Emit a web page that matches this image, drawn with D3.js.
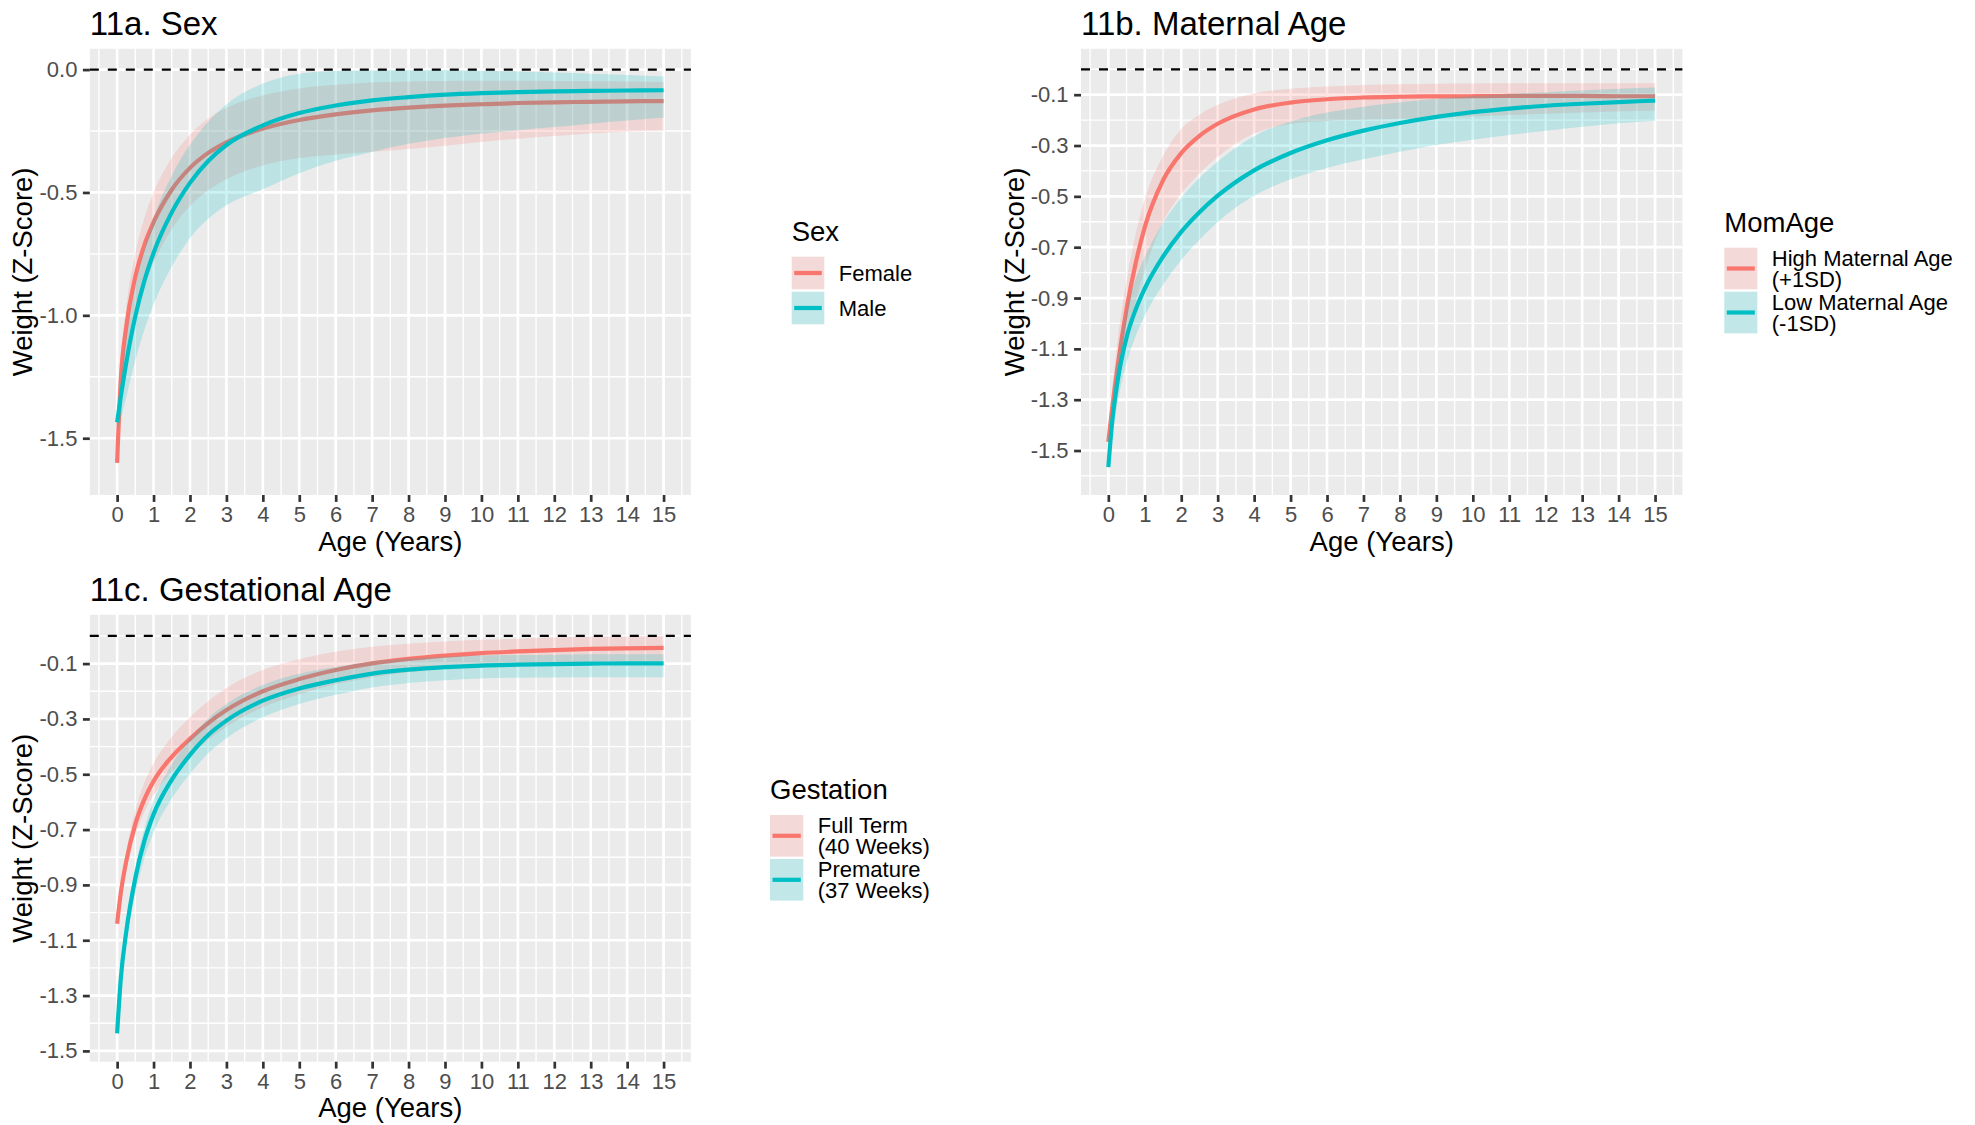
<!DOCTYPE html>
<html><head><meta charset="utf-8">
<script src="https://cdn.jsdelivr.net/npm/d3@7"></script>
<style>
body{margin:0;background:#fff;}
svg text{font-family:"Liberation Sans", Arial, sans-serif;}
</style>
</head><body>
<svg id="chart" width="1975" height="1125"></svg>
<script>
// ---------- DATA ----------
const ages = [0, 0.1, 0.25, 0.5, 0.75, 1, 1.5, 2, 2.5, 3, 4, 5, 6, 7, 8, 9, 10, 11, 12, 13, 14, 15];
const xTicks = [0,1,2,3,4,5,6,7,8,9,10,11,12,13,14,15];
const xTickLabels = ["0","1","2","3","4","5","6","7","8","9","10","11","12","13","14","15"];
const yTicksA = [0, -0.5, -1.0, -1.5];
const yTickLabelsA = ["0.0", "-0.5", "-1.0", "-1.5"];
const yTicksBC = [-0.1, -0.3, -0.5, -0.7, -0.9, -1.1, -1.3, -1.5];
const yTickLabelsBC = ["-0.1", "-0.3", "-0.5", "-0.7", "-0.9", "-1.1", "-1.3", "-1.5"];

// 11a. Sex
const femaleFit  = [-1.60, -1.262, -1.047, -0.843, -0.713, -0.621, -0.489, -0.40, -0.339, -0.296, -0.240, -0.205, -0.182, -0.166, -0.155, -0.147, -0.141, -0.136, -0.133, -0.131, -0.129, -0.128];
const femaleLow  = [-1.64, -1.362, -1.177, -0.993, -0.873, -0.786, -0.649, -0.555, -0.491, -0.446, -0.39, -0.36, -0.345, -0.334, -0.323, -0.31, -0.295, -0.281, -0.27, -0.26, -0.252, -0.248];
const femaleHigh = [-1.57, -1.202, -0.967, -0.748, -0.603, -0.501, -0.359, -0.265, -0.199, -0.156, -0.105, -0.077, -0.062, -0.053, -0.048, -0.046, -0.045, -0.045, -0.046, -0.047, -0.048, -0.05];
const maleFit    = [-1.435, -1.331, -1.193, -1.003, -0.859, -0.746, -0.581, -0.461, -0.372, -0.307, -0.227, -0.177, -0.146, -0.125, -0.112, -0.102, -0.096, -0.092, -0.089, -0.087, -0.085, -0.084];
const maleLow    = [-1.47, -1.421, -1.333, -1.183, -1.059, -0.956, -0.801, -0.686, -0.607, -0.552, -0.487, -0.422, -0.371, -0.335, -0.302, -0.278, -0.261, -0.247, -0.234, -0.22, -0.207, -0.196];
const maleHigh   = [-1.40, -1.261, -1.093, -0.883, -0.729, -0.606, -0.431, -0.306, -0.212, -0.142, -0.057, -0.017, -0.006, -0.003, -0.002, -0.002, -0.005, -0.008, -0.012, -0.017, -0.022, -0.028];

// 11b. Maternal Age
const highFit  = [-1.466, -1.34, -1.173, -0.943, -0.763, -0.621, -0.437, -0.33, -0.262, -0.2145, -0.158, -0.131, -0.118, -0.111, -0.108, -0.1065, -0.106, -0.105, -0.105, -0.105, -0.106, -0.106];
const highLow  = [-1.496, -1.41, -1.273, -1.063, -0.913, -0.791, -0.602, -0.49, -0.41, -0.345, -0.253, -0.215, -0.203, -0.199, -0.195, -0.19, -0.186, -0.18, -0.175, -0.17, -0.166, -0.162];
const highHigh = [-1.436, -1.27, -1.073, -0.833, -0.648, -0.511, -0.342, -0.235, -0.179, -0.14, -0.095, -0.077, -0.068, -0.062, -0.059, -0.057, -0.056, -0.055, -0.055, -0.055, -0.055, -0.055];
const lowFit   = [-1.565, -1.395, -1.23, -1.055, -0.945, -0.8625, -0.7375, -0.64, -0.5625, -0.4975, -0.3975, -0.3295, -0.2795, -0.2415, -0.2115, -0.1875, -0.1685, -0.1545, -0.1435, -0.1355, -0.129, -0.123];
const lowLow   = [-1.59, -1.455, -1.315, -1.155, -1.05, -0.97, -0.848, -0.75, -0.671, -0.601, -0.498, -0.433, -0.388, -0.354, -0.324, -0.298, -0.277, -0.259, -0.242, -0.226, -0.212, -0.202];
const lowHigh  = [-1.535, -1.335, -1.14, -0.945, -0.825, -0.738, -0.605, -0.505, -0.428, -0.363, -0.263, -0.205, -0.17, -0.147, -0.13, -0.116, -0.105, -0.097, -0.09, -0.083, -0.077, -0.072];

// 11c. Gestational Age
const fullFit  = [-1.04, -0.93, -0.815, -0.68, -0.59, -0.525, -0.437, -0.372, -0.315, -0.268, -0.20, -0.156, -0.123, -0.099, -0.083, -0.071, -0.062, -0.056, -0.051, -0.047, -0.045, -0.043];
const fullLow  = [-1.05, -0.95, -0.845, -0.72, -0.635, -0.575, -0.492, -0.43, -0.375, -0.328, -0.258, -0.211, -0.175, -0.149, -0.131, -0.118, -0.108, -0.102, -0.097, -0.093, -0.091, -0.09];
const fullHigh = [-1.03, -0.91, -0.78, -0.63, -0.53, -0.46, -0.365, -0.294, -0.235, -0.188, -0.123, -0.084, -0.057, -0.039, -0.028, -0.02, -0.014, -0.01, -0.006, -0.003, -0.002, 0.0];
const preFit   = [-1.437, -1.24, -1.07, -0.875, -0.74, -0.645, -0.52, -0.43, -0.358, -0.306, -0.234, -0.19, -0.16, -0.136, -0.122, -0.113, -0.107, -0.104, -0.102, -0.1, -0.099, -0.099];
const preLow   = [-1.447, -1.265, -1.11, -0.93, -0.802, -0.711, -0.588, -0.498, -0.424, -0.37, -0.294, -0.246, -0.213, -0.186, -0.17, -0.16, -0.154, -0.151, -0.15, -0.149, -0.149, -0.149];
const preHigh  = [-1.427, -1.22, -1.04, -0.835, -0.695, -0.595, -0.465, -0.372, -0.298, -0.246, -0.177, -0.137, -0.112, -0.092, -0.082, -0.075, -0.071, -0.069, -0.068, -0.066, -0.066, -0.066];

const titles = ["11a. Sex", "11b. Maternal Age", "11c. Gestational Age"];
const xTitle = "Age (Years)";
const yTitle = "Weight (Z-Score)";
const legendTitles = ["Sex", "MomAge", "Gestation"];
const sexLabels = [["Female"], ["Male"]];
const momAgeLabels = [["High Maternal Age", "(+1SD)"], ["Low Maternal Age", "(-1SD)"]];
const gestLabels = [["Full Term", "(40 Weeks)"], ["Premature", "(37 Weeks)"]];
const colors = ["#F8766D", "#00BFC4"];

// ---------- DRAW ----------
const svg = d3.select("#chart");
const FONT = '"Liberation Sans", Arial, sans-serif';

function build(fit, low, high) {
  return ages.map((a, i) => ({age: a, fit: fit[i], low: low[i], high: high[i]}));
}

function drawPanel(p) {
  const g = svg.append("g");
  const x = d3.scaleLinear().domain([-0.75, 15.75]).range([p.left, p.right]);
  const y = d3.scaleLinear().domain(p.yDomain).range([p.bottom, p.top]);

  g.append("rect").attr("x", p.left).attr("y", p.top)
    .attr("width", p.right - p.left).attr("height", p.bottom - p.top).attr("fill", "#EBEBEB");

  // minor grid
  const step = p.yTicks[0] - p.yTicks[1];
  const yMinor = [];
  for (let k = -1; k < p.yTicks.length; k++) {
    const v = p.yTicks[0] - step * k - step / 2;
    if (v > p.yDomain[0] && v < p.yDomain[1]) yMinor.push(v);
  }
  const xMinor = d3.range(-0.5, 15.6, 1);
  g.selectAll(".ymin").data(yMinor).enter().append("line")
    .attr("x1", p.left).attr("x2", p.right).attr("y1", d => y(d)).attr("y2", d => y(d))
    .attr("stroke", "#fff").attr("stroke-width", 1.35);
  g.selectAll(".xmin").data(xMinor).enter().append("line")
    .attr("y1", p.top).attr("y2", p.bottom).attr("x1", d => x(d)).attr("x2", d => x(d))
    .attr("stroke", "#fff").attr("stroke-width", 1.35);
  // major grid
  g.selectAll(".ymaj").data(p.yTicks).enter().append("line")
    .attr("x1", p.left).attr("x2", p.right).attr("y1", d => y(d)).attr("y2", d => y(d))
    .attr("stroke", "#fff").attr("stroke-width", 2.7);
  g.selectAll(".xmaj").data(xTicks).enter().append("line")
    .attr("y1", p.top).attr("y2", p.bottom).attr("x1", d => x(d)).attr("x2", d => x(d))
    .attr("stroke", "#fff").attr("stroke-width", 2.7);

  // series: ribbon then line, per group
  const area = d3.area().x(d => x(d.age)).y0(d => y(d.low)).y1(d => y(d.high)).curve(d3.curveMonotoneX);
  const line = d3.line().x(d => x(d.age)).y(d => y(d.fit)).curve(d3.curveMonotoneX);
  p.series.forEach((s, i) => {
    g.append("path").datum(s).attr("d", area).attr("fill", colors[i]).attr("fill-opacity", 0.2);
    g.append("path").datum(s).attr("d", line).attr("fill", "none")
      .attr("stroke", colors[i]).attr("stroke-width", 4.2);
  });

  // dashed zero line
  g.append("line").attr("x1", p.left).attr("x2", p.right).attr("y1", y(0)).attr("y2", y(0))
    .attr("stroke", "#000").attr("stroke-width", 2.2).attr("stroke-dasharray", "9,9");

  // axes
  const ax = g.append("g").attr("transform", `translate(0,${p.bottom})`)
    .call(d3.axisBottom(x).tickValues(xTicks).tickFormat((d, i) => xTickLabels[i]).tickSize(6.9).tickPadding(4.5));
  const ay = g.append("g").attr("transform", `translate(${p.left},0)`)
    .call(d3.axisLeft(y).tickValues(p.yTicks).tickFormat((d, i) => p.yTickLabels[i]).tickSize(6.9).tickPadding(5.5));
  [ax, ay].forEach(a => {
    a.select(".domain").remove();
    a.selectAll(".tick line").attr("stroke", "#333333").attr("stroke-width", 2.7);
    a.selectAll(".tick text").attr("fill", "#4D4D4D").style("font-size", "22px").style("font-family", FONT);
  });

  // titles
  g.append("text").attr("x", p.left).attr("y", p.top - 13.5).text(p.title)
    .style("font-size", "33px").attr("fill", "#000");
  g.append("text").attr("x", (p.left + p.right) / 2).attr("y", p.bottom + 55.5).attr("text-anchor", "middle")
    .text(xTitle).style("font-size", "27.5px").attr("fill", "#000");
  g.append("text").attr("transform", `translate(${p.yTitleX},${(p.top + p.bottom) / 2}) rotate(-90)`)
    .attr("text-anchor", "middle").text(yTitle).style("font-size", "27.5px").attr("fill", "#000");
}

function drawLegend(L) {
  const g = svg.append("g");
  g.append("text").attr("x", L.x).attr("y", L.titleY).text(L.title).style("font-size", "27.5px").attr("fill", "#000");
  let top = L.keyTop;
  L.labels.forEach((lines, i) => {
    const h = L.keyH;
    g.append("rect").attr("x", L.x).attr("y", top).attr("width", L.keyW).attr("height", h)
      .attr("fill", "#F2F2F2");
    g.append("rect").attr("x", L.x).attr("y", top).attr("width", L.keyW).attr("height", h)
      .attr("fill", colors[i]).attr("fill-opacity", 0.2);
    g.append("line").attr("x1", L.x + 2.5).attr("x2", L.x + L.keyW - 2.5)
      .attr("y1", top + h / 2).attr("y2", top + h / 2).attr("stroke", colors[i]).attr("stroke-width", 4.2);
    const lh = 20.7;
    const c0 = top + h / 2 - (lines.length - 1) * lh / 2;
    lines.forEach((t, j) => {
      g.append("text").attr("x", L.x + L.keyW + 14.5).attr("y", c0 + j * lh + 7.9).text(t)
        .style("font-size", "22px").attr("fill", "#000");
    });
    top += h + L.gap;
  });
}

drawPanel({
  left: 89.8, right: 690.9, top: 48.8, bottom: 495, yDomain: [-1.731, 0.0846],
  yTicks: yTicksA, yTickLabels: yTickLabelsA, title: titles[0], yTitleX: 32,
  series: [build(femaleFit, femaleLow, femaleHigh), build(maleFit, maleLow, maleHigh)]
});
drawPanel({
  left: 1081, right: 1682.4, top: 48.8, bottom: 495, yDomain: [-1.675, 0.0806],
  yTicks: yTicksBC, yTickLabels: yTickLabelsBC, title: titles[1], yTitleX: 1024,
  series: [build(highFit, highLow, highHigh), build(lowFit, lowLow, lowHigh)]
});
drawPanel({
  left: 89.8, right: 690.9, top: 614.8, bottom: 1061.7, yDomain: [-1.539, 0.0764],
  yTicks: yTicksBC, yTickLabels: yTickLabelsBC, title: titles[2], yTitleX: 32,
  series: [build(fullFit, fullLow, fullHigh), build(preFit, preLow, preHigh)]
});

drawLegend({x: 791.7, titleY: 241, keyTop: 256.7, keyW: 32.6, keyH: 32.6, gap: 2.4, title: legendTitles[0], labels: sexLabels});
drawLegend({x: 1724.3, titleY: 231.7, keyTop: 247.7, keyW: 33, keyH: 41.6, gap: 2.4, title: legendTitles[1], labels: momAgeLabels});
drawLegend({x: 770, titleY: 799.3, keyTop: 815, keyW: 33.3, keyH: 41.6, gap: 2.4, title: legendTitles[2], labels: gestLabels});
</script>
</body></html>
